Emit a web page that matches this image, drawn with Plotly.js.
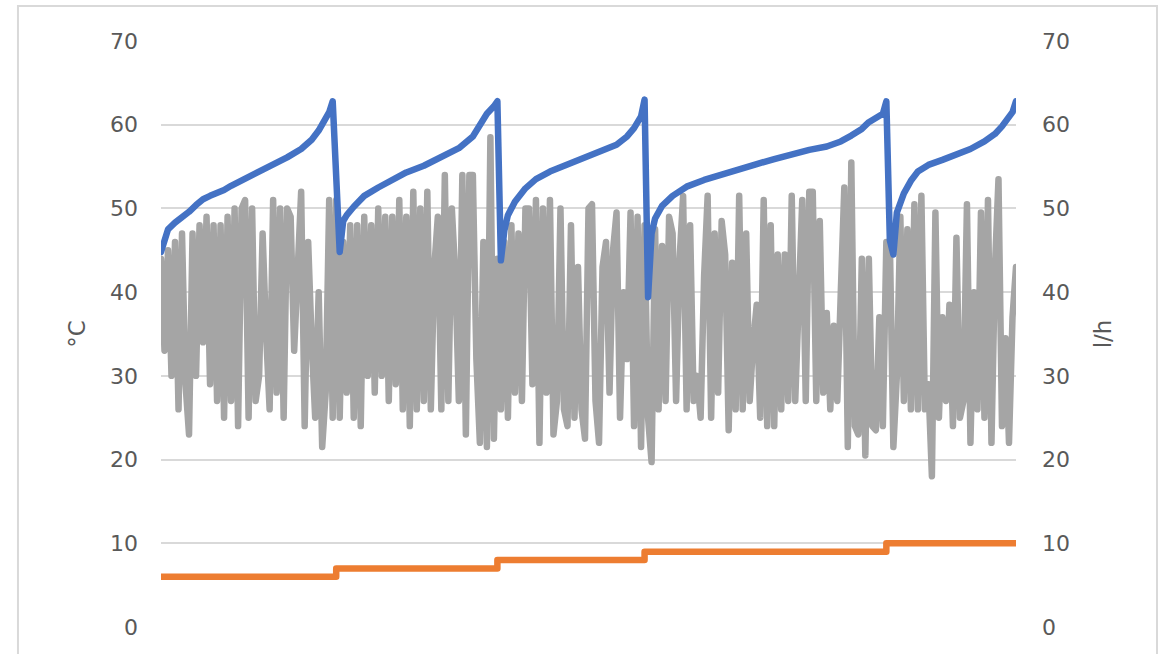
<!DOCTYPE html>
<html>
<head>
<meta charset="utf-8">
<script src="https://cdn.plot.ly/plotly-3.0.1.min.js"></script>
<style>
  html, body { margin: 0; padding: 0; background: #ffffff; }
  #chart { width: 1169px; height: 654px; }
  /* rounded joins and caps, as in the spreadsheet line style */
  .scatterlayer path.js-line { stroke-linejoin: round !important; stroke-linecap: round !important; }
</style>
</head>
<body>
<div id="chart"></div>
<script>
// Flow (l/h), one value per sample
const flowValues = [
  44, 33, 45, 30, 46, 26, 47, 29, 23, 47, 30, 48, 34, 49, 29, 48, 27, 48, 25, 49,
  27, 50, 24, 50, 51, 25, 50, 27, 30, 47, 35, 26, 51, 28, 50, 25, 50, 49, 33, 43,
  52, 24, 46, 34, 25, 40, 21.5, 28, 51, 25, 51, 25, 46, 28, 48, 25, 48, 24, 49, 30,
  48, 28, 50, 30, 49, 27, 49, 29, 51, 26, 49, 24, 52, 26, 50, 27, 52, 26, 43, 49,
  26, 54,
  27, 50, 42, 27, 54, 23, 54, 54, 32, 22, 46, 21.5, 58.5, 22.5, 44, 26, 46, 25, 48, 28,
  47, 27, 50, 50, 29, 51, 22, 50, 28, 51, 23, 27, 50, 26, 24, 48, 25, 43, 26, 22.5,
  50,
  50.5, 27, 22, 43, 46, 28, 45, 49.5, 25, 40, 32, 49.5, 24, 49, 21.5, 48, 25, 19.7, 47.5, 26,
  45.5, 27, 49, 47, 27, 44, 51.5, 26, 48, 27, 30, 25, 42, 51.5, 25, 47, 28, 48.5, 44.5, 23.5,
  43.5, 26, 51.5, 26, 47, 27, 34, 38.5, 25, 51, 24, 48, 24, 44.5, 26, 44.5, 27, 51.5, 27, 38,
  51, 27, 52, 52, 27, 48.5, 28, 37.5, 26, 36, 27, 40, 52.5, 21.5, 55.5, 24, 23, 44, 20.5, 44,
  24,
  23.5, 37, 24, 46, 46, 21.5, 30, 49, 27, 47.5, 26, 50.5, 26, 51.5, 26, 29, 18, 49.5, 25, 37,
  27, 38.5, 24, 46.5, 25, 27, 50.5, 22, 40, 26, 49.5, 25, 51, 22, 43, 53.5, 24, 34.5, 22, 37,
  43
];
const flowSamples = flowValues.map((v, i) => i);

// Storage temperature (°C) at selected samples
const tempSamples = [
  0, 1, 2, 4, 6, 8, 10, 12, 14, 16, 18, 20, 24, 28, 32, 36, 40, 43, 45, 46, 47, 48, 49,
  51, 52, 53, 55, 58, 62, 66, 70, 75, 80, 85, 89, 91, 93, 95, 96,
  97, 98, 99, 101, 104, 107, 111, 116, 121, 126, 130, 133, 135, 137, 138,
  139, 140, 141, 143, 146, 150, 155, 160, 165, 170, 175, 180, 185, 190, 194, 197, 200, 202, 204, 206, 207,
  208, 209, 210, 212, 214, 216, 219, 223, 227, 231, 235, 238, 240, 242, 243, 244
];
const tempValues = [
  44.8, 46.5, 47.5, 48.3, 48.9, 49.6, 50.4, 51.1, 51.5, 51.8, 52.2, 52.7, 53.5, 54.4, 55.2, 56.1, 57.1, 58.2, 59.3, 60.0, 60.8, 61.5, 62.8,
  44.8, 48.5, 49.2, 50.2, 51.5, 52.5, 53.4, 54.3, 55.1, 56.1, 57.2, 58.6, 60.0, 61.3, 62.2, 62.8,
  43.8, 47.4, 49.2, 50.8, 52.4, 53.5, 54.4, 55.2, 56.1, 56.8, 57.6, 58.6, 59.6, 61.0, 63.0,
  39.4, 47.0, 48.8, 50.3, 51.5, 52.6, 53.4, 54.1, 54.8, 55.3, 55.9, 56.5, 57.0, 57.4, 58.0, 58.7, 59.5, 60.3, 60.8, 61.3, 62.8,
  46.2, 44.5, 49.5, 51.8, 53.3, 54.4, 55.2, 55.8, 56.4, 57.1, 58.0, 58.9, 59.8, 60.8, 61.5, 62.8
];

// Set-point steps (level held until the next change)
const stepSamples = [0, 50, 96, 138, 207, 244];
const stepValues = [6, 7, 8, 9, 10, 10];

const textColor = '#595959';
const gridColor = '#d9d9d9';
const fontFamily = '"DejaVu Sans", "Open Sans", sans-serif';

const traces = [
  {
    x: flowSamples, y: flowValues, type: 'scatter', mode: 'lines',
    line: { color: '#a5a5a5', width: 6.5 }, yaxis: 'y', hoverinfo: 'skip'
  },
  {
    x: stepSamples, y: stepValues, type: 'scatter', mode: 'lines',
    line: { color: '#ed7d31', width: 6.5, shape: 'hv' }, yaxis: 'y2', hoverinfo: 'skip'
  },
  {
    x: tempSamples, y: tempValues, type: 'scatter', mode: 'lines',
    line: { color: '#4472c4', width: 6.5 }, yaxis: 'y', hoverinfo: 'skip'
  }
];

const layout = {
  width: 1169, height: 654,
  margin: { l: 161, r: 153, t: 41, b: 27, pad: 0 },
  paper_bgcolor: '#ffffff', plot_bgcolor: '#ffffff',
  showlegend: false,
  font: { family: fontFamily, color: textColor },
  xaxis: { range: [0, 244], visible: false, fixedrange: true },
  yaxis: {
    range: [0, 70], tick0: 0, dtick: 10,
    showgrid: true, gridcolor: gridColor, gridwidth: 2,
    zeroline: false, showline: false, ticks: '',
    ticklabelstandoff: 22,
    tickfont: { size: 22, color: textColor, family: fontFamily },
    title: { text: '°C', standoff: 17, font: { size: 23, color: textColor, family: fontFamily } },
    fixedrange: true
  },
  yaxis2: {
    overlaying: 'y', side: 'right',
    range: [0, 70], tick0: 0, dtick: 10,
    showgrid: false, zeroline: false, showline: false, ticks: '',
    ticklabelstandoff: 25,
    tickfont: { size: 22, color: textColor, family: fontFamily },
    title: { text: 'l/h', standoff: 25, font: { size: 23, color: textColor, family: fontFamily } },
    fixedrange: true
  },
  shapes: [
    {
      type: 'rect', xref: 'paper', yref: 'paper',
      x0: -0.1673, x1: 1.1649, y0: -0.2, y1: 1.0597,
      line: { color: gridColor, width: 2 }, fillcolor: 'rgba(0,0,0,0)', layer: 'below'
    }
  ]
};

Plotly.newPlot('chart', traces, layout, { staticPlot: true, displayModeBar: false });
</script>
</body>
</html>
